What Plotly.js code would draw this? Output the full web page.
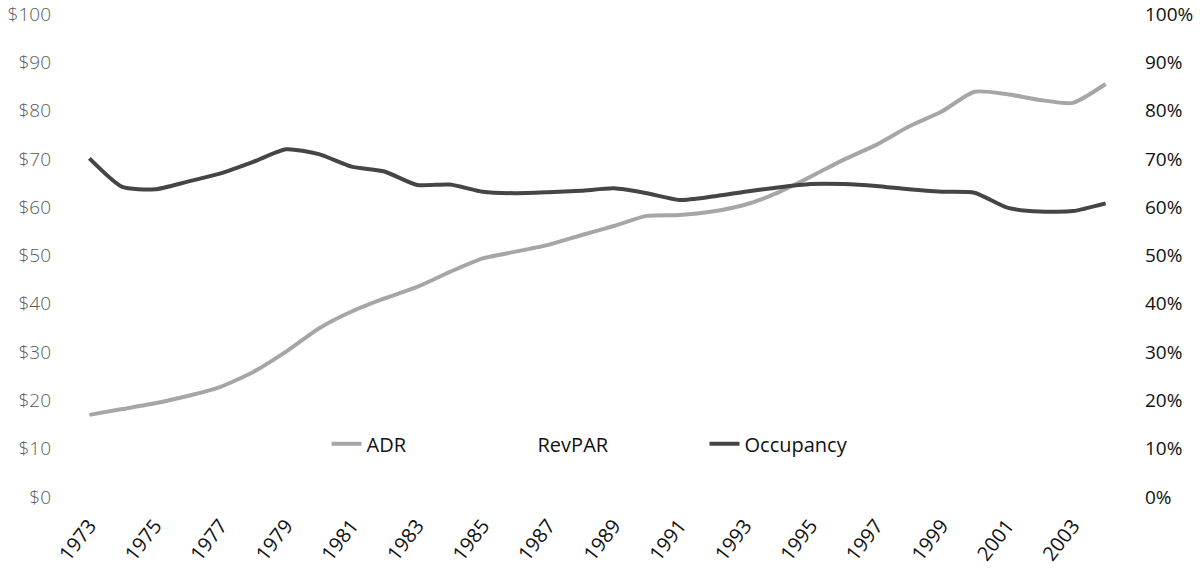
<!DOCTYPE html>
<html>
<head>
<meta charset="utf-8">
<script src="https://cdn.plot.ly/plotly-3.0.1.min.js"></script>
<style>html,body{margin:0;padding:0;background:#fff}#chart{width:1200px;height:569px}</style>
</head>
<body>
<div id="chart"></div>
<script>
var years = [1973,1974,1975,1976,1977,1978,1979,1980,1981,1982,1983,1984,1985,1986,1987,1988,1989,1990,1991,1992,1993,1994,1995,1996,1997,1998,1999,2000,2001,2002,2003,2004];
var adr = [17.0,18.2,19.4,20.9,22.8,25.9,30.1,34.9,38.4,41.1,43.5,46.6,49.4,50.8,52.2,54.2,56.1,58.2,58.4,59.1,60.5,63.0,66.3,69.8,72.9,76.7,79.8,83.9,83.4,82.2,81.6,85.5];
var revpar = [11.9,11.7,12.4,13.6,15.3,18.0,21.7,24.8,26.3,27.7,28.1,30.2,31.2,31.9,32.9,34.4,35.8,36.6,35.9,36.8,38.2,40.4,43.0,45.2,47.0,48.9,50.4,52.9,50.0,48.6,48.3,52.0];
var occupancy = [70.1,64.2,63.7,65.3,67.0,69.4,72.0,71.0,68.4,67.4,64.6,64.7,63.2,62.9,63.1,63.4,63.9,62.9,61.5,62.2,63.2,64.1,64.8,64.8,64.4,63.7,63.2,63.0,59.9,59.1,59.2,60.8];
var seriesNames = ['ADR','RevPAR','Occupancy'];

var traces = [
  {x: years, y: adr, name: seriesNames[0], type: 'scatter', mode: 'lines', yaxis: 'y', legend: 'legend',
   line: {color: '#a6a6a6', width: 4, shape: 'spline', smoothing: 0.6}},
  {x: years, y: revpar, name: seriesNames[1], type: 'scatter', mode: 'lines', yaxis: 'y', legend: 'legend2',
   line: {color: '#ffffff', width: 4, shape: 'spline', smoothing: 0.6}},
  {x: years, y: occupancy, name: seriesNames[2], type: 'scatter', mode: 'lines', yaxis: 'y2', legend: 'legend3',
   line: {color: '#454545', width: 4, shape: 'spline', smoothing: 0.6}}
];

function leg(xpos) {
  return {orientation: 'h', x: xpos, xanchor: 'left', y: 0.11, yanchor: 'middle',
          bgcolor: 'rgba(0,0,0,0)', font: {size: 20, color: '#111'}};
}

var layout = {
  width: 1200, height: 569,
  margin: {l: 73, r: 78, t: 14, b: 72},
  paper_bgcolor: '#fff', plot_bgcolor: '#fff',
  font: {family: 'Open Sans, sans-serif', size: 19, color: '#111'},
  showlegend: true,
  legend: leg(0.2417),
  legend2: leg(0.4047),
  legend3: leg(0.6020),
  xaxis: {range: [1972.5, 2004.5], tickmode: 'linear', tick0: 1973, dtick: 2,
          tickangle: -52, showgrid: false, zeroline: false, showline: false, ticks: '',
          ticklabelstandoff: 12,
          tickfont: {size: 20, color: '#111'}},
  yaxis: {range: [0, 100], tickmode: 'linear', tick0: 0, dtick: 10, tickprefix: '$',
          showgrid: false, zeroline: false, showline: false, ticks: '',
          ticklabelstandoff: 21,
          tickfont: {size: 19, color: '#5a5a5a', weight: 300}},
  yaxis2: {range: [0, 100], tickmode: 'linear', tick0: 0, dtick: 10, ticksuffix: '%',
           overlaying: 'y', side: 'right', showgrid: false, zeroline: false, showline: false,
           ticks: '', ticklabelstandoff: 22,
           tickfont: {size: 19, color: '#111'}}
};

Plotly.newPlot('chart', traces, layout, {displayModeBar: false, staticPlot: true});
</script>
</body>
</html>
